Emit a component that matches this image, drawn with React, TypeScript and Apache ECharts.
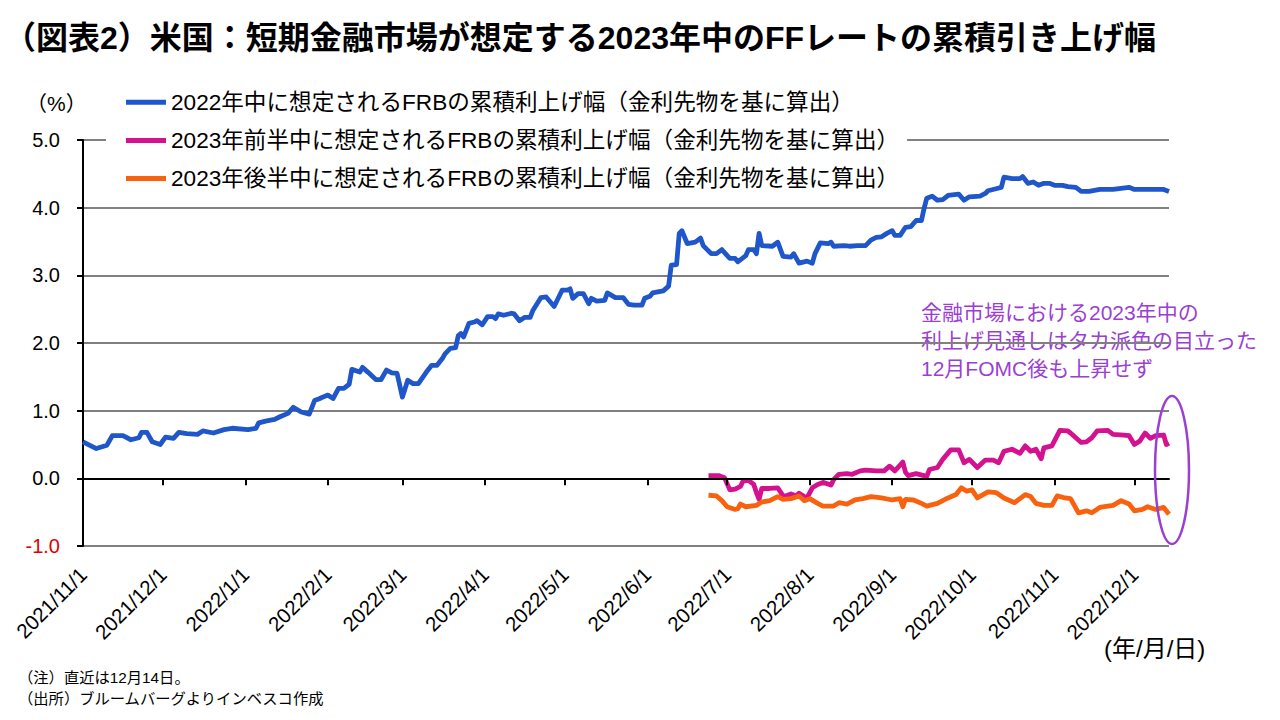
import React, { useEffect, useRef } from "react";
import * as echarts from "echarts";

const titleText = "（図表2）米国：短期金融市場が想定する2023年中のFFレートの累積引き上げ幅";
const seriesNames = [
  "2022年中に想定されるFRBの累積利上げ幅（金利先物を基に算出）",
  "2023年前半中に想定されるFRBの累積利上げ幅（金利先物を基に算出）",
  "2023年後半中に想定されるFRBの累積利上げ幅（金利先物を基に算出）",
];
const seriesColors = ["#1F56C9", "#D4118E", "#F8620F"];
const unitLabel = "（%）";
const xUnitLabel = "(年/月/日)";
const noteLines = ["（注）直近は12月14日。", "（出所）ブルームバーグよりインベスコ作成"];
const annotationLines = ["金融市場における2023年中の", "利上げ見通しはタカ派色の目立った", "12月FOMC後も上昇せず"];

const xMin = "2021-11-01";
const xMax = "2022-12-14";
const monthTicks = [
  "2021-11-01", "2021-12-01", "2022-01-01", "2022-02-01", "2022-03-01", "2022-04-01", "2022-05-01",
  "2022-06-01", "2022-07-01", "2022-08-01", "2022-09-01", "2022-10-01", "2022-11-01", "2022-12-01",
];
const yMin = -1;
const yMax = 5;
const yStep = 1;

const blue2022: [string, number][] = [
  ["2021-11-01", 0.54], ["2021-11-06", 0.44], ["2021-11-10", 0.49], ["2021-11-12", 0.63], ["2021-11-16", 0.63],
  ["2021-11-19", 0.57], ["2021-11-22", 0.6], ["2021-11-23", 0.68], ["2021-11-25", 0.68], ["2021-11-27", 0.54],
  ["2021-11-30", 0.5], ["2021-12-02", 0.61], ["2021-12-05", 0.59], ["2021-12-07", 0.68], ["2021-12-10", 0.66],
  ["2021-12-14", 0.65], ["2021-12-16", 0.7], ["2021-12-20", 0.67], ["2021-12-24", 0.72], ["2021-12-27", 0.74],
  ["2022-01-02", 0.72], ["2022-01-05", 0.74], ["2022-01-06", 0.82], ["2022-01-09", 0.85], ["2022-01-12", 0.87],
  ["2022-01-14", 0.91], ["2022-01-17", 0.96], ["2022-01-19", 1.05], ["2022-01-22", 0.98], ["2022-01-25", 0.95],
  ["2022-01-27", 1.15], ["2022-01-29", 1.18], ["2022-01-30", 1.2], ["2022-02-01", 1.23], ["2022-02-03", 1.18],
  ["2022-02-05", 1.33], ["2022-02-07", 1.33], ["2022-02-09", 1.39], ["2022-02-10", 1.61], ["2022-02-13", 1.57],
  ["2022-02-14", 1.64], ["2022-02-16", 1.57], ["2022-02-19", 1.46], ["2022-02-21", 1.46], ["2022-02-23", 1.6],
  ["2022-02-25", 1.56], ["2022-02-27", 1.55], ["2022-03-01", 1.2], ["2022-03-03", 1.45], ["2022-03-05", 1.4],
  ["2022-03-07", 1.4], ["2022-03-10", 1.57], ["2022-03-12", 1.67], ["2022-03-14", 1.67], ["2022-03-16", 1.77],
  ["2022-03-17", 1.84], ["2022-03-19", 1.92], ["2022-03-21", 1.93], ["2022-03-22", 2.11], ["2022-03-23", 2.14],
  ["2022-03-24", 2.09], ["2022-03-26", 2.29], ["2022-03-28", 2.31], ["2022-03-29", 2.33], ["2022-03-31", 2.27],
  ["2022-04-02", 2.39], ["2022-04-04", 2.39], ["2022-04-05", 2.36], ["2022-04-06", 2.43], ["2022-04-08", 2.41],
  ["2022-04-11", 2.44], ["2022-04-12", 2.43], ["2022-04-14", 2.33], ["2022-04-16", 2.38], ["2022-04-18", 2.38],
  ["2022-04-19", 2.48], ["2022-04-22", 2.67], ["2022-04-24", 2.68], ["2022-04-27", 2.54], ["2022-04-30", 2.78],
  ["2022-05-02", 2.78], ["2022-05-03", 2.8], ["2022-05-04", 2.66], ["2022-05-06", 2.73], ["2022-05-08", 2.73],
  ["2022-05-10", 2.58], ["2022-05-11", 2.66], ["2022-05-13", 2.62], ["2022-05-16", 2.63], ["2022-05-17", 2.74],
  ["2022-05-20", 2.67], ["2022-05-23", 2.67], ["2022-05-25", 2.57], ["2022-05-27", 2.56], ["2022-05-30", 2.56],
  ["2022-05-31", 2.66], ["2022-06-02", 2.69], ["2022-06-03", 2.74], ["2022-06-07", 2.77], ["2022-06-09", 2.84],
  ["2022-06-10", 3.15], ["2022-06-12", 3.16], ["2022-06-13", 3.62], ["2022-06-14", 3.66], ["2022-06-16", 3.47],
  ["2022-06-19", 3.49], ["2022-06-21", 3.55], ["2022-06-22", 3.44], ["2022-06-25", 3.32], ["2022-06-27", 3.32],
  ["2022-06-29", 3.38], ["2022-07-02", 3.25], ["2022-07-04", 3.25], ["2022-07-05", 3.2], ["2022-07-08", 3.29],
  ["2022-07-09", 3.38], ["2022-07-11", 3.38], ["2022-07-12", 3.32], ["2022-07-13", 3.62], ["2022-07-14", 3.44],
  ["2022-07-18", 3.43], ["2022-07-20", 3.49], ["2022-07-22", 3.28], ["2022-07-25", 3.27], ["2022-07-26", 3.32],
  ["2022-07-28", 3.18], ["2022-07-31", 3.21], ["2022-08-02", 3.18], ["2022-08-03", 3.32], ["2022-08-05", 3.48],
  ["2022-08-08", 3.47], ["2022-08-09", 3.49], ["2022-08-10", 3.43], ["2022-08-14", 3.44], ["2022-08-16", 3.43],
  ["2022-08-19", 3.44], ["2022-08-22", 3.44], ["2022-08-24", 3.52], ["2022-08-26", 3.56], ["2022-08-28", 3.57],
  ["2022-08-30", 3.62], ["2022-09-01", 3.66], ["2022-09-02", 3.59], ["2022-09-04", 3.59], ["2022-09-06", 3.71],
  ["2022-09-08", 3.72], ["2022-09-10", 3.81], ["2022-09-12", 3.81], ["2022-09-13", 3.99], ["2022-09-14", 4.14],
  ["2022-09-16", 4.17], ["2022-09-18", 4.11], ["2022-09-20", 4.12], ["2022-09-22", 4.18], ["2022-09-26", 4.2],
  ["2022-09-28", 4.11], ["2022-09-30", 4.16], ["2022-10-04", 4.17], ["2022-10-06", 4.21], ["2022-10-07", 4.25],
  ["2022-10-10", 4.28], ["2022-10-12", 4.3], ["2022-10-13", 4.45], ["2022-10-16", 4.43], ["2022-10-19", 4.43],
  ["2022-10-20", 4.46], ["2022-10-22", 4.36], ["2022-10-24", 4.38], ["2022-10-26", 4.33], ["2022-10-28", 4.36],
  ["2022-10-30", 4.36], ["2022-11-01", 4.33], ["2022-11-04", 4.33], ["2022-11-06", 4.31], ["2022-11-09", 4.3],
  ["2022-11-11", 4.24], ["2022-11-14", 4.24], ["2022-11-18", 4.27], ["2022-11-23", 4.27], ["2022-11-29", 4.3],
  ["2022-12-01", 4.27], ["2022-12-07", 4.27], ["2022-12-12", 4.27], ["2022-12-14", 4.24],
];

const magenta2023H1: [string, number][] = [
  ["2022-06-24", 0.04], ["2022-06-28", 0.04], ["2022-06-30", 0.01], ["2022-07-02", -0.17], ["2022-07-04", -0.16],
  ["2022-07-06", -0.12], ["2022-07-07", -0.04], ["2022-07-09", -0.03], ["2022-07-11", -0.09], ["2022-07-12", -0.21],
  ["2022-07-13", -0.31], ["2022-07-14", -0.15], ["2022-07-17", -0.15], ["2022-07-20", -0.14], ["2022-07-22", -0.26],
  ["2022-07-23", -0.26], ["2022-07-25", -0.23], ["2022-07-27", -0.26], ["2022-07-28", -0.22], ["2022-07-30", -0.27],
  ["2022-07-31", -0.29], ["2022-08-02", -0.14], ["2022-08-04", -0.09], ["2022-08-06", -0.06], ["2022-08-09", -0.1],
  ["2022-08-10", -0.02], ["2022-08-12", 0.06], ["2022-08-15", 0.07], ["2022-08-17", 0.06], ["2022-08-20", 0.11],
  ["2022-08-22", 0.12], ["2022-08-26", 0.11], ["2022-08-29", 0.11], ["2022-08-31", 0.18], ["2022-09-02", 0.11],
  ["2022-09-05", 0.24], ["2022-09-06", 0.09], ["2022-09-07", 0.04], ["2022-09-10", 0.07], ["2022-09-14", 0.03],
  ["2022-09-15", 0.13], ["2022-09-18", 0.16], ["2022-09-20", 0.28], ["2022-09-23", 0.42], ["2022-09-26", 0.42],
  ["2022-09-28", 0.23], ["2022-09-30", 0.28], ["2022-10-03", 0.16], ["2022-10-06", 0.27], ["2022-10-09", 0.27],
  ["2022-10-11", 0.23], ["2022-10-13", 0.4], ["2022-10-16", 0.43], ["2022-10-19", 0.37], ["2022-10-21", 0.48],
  ["2022-10-23", 0.4], ["2022-10-25", 0.43], ["2022-10-27", 0.29], ["2022-10-28", 0.45], ["2022-10-31", 0.48],
  ["2022-11-03", 0.71], ["2022-11-06", 0.7], ["2022-11-07", 0.67], ["2022-11-11", 0.53], ["2022-11-13", 0.54],
  ["2022-11-15", 0.6], ["2022-11-17", 0.7], ["2022-11-21", 0.71], ["2022-11-23", 0.65], ["2022-11-27", 0.64],
  ["2022-11-29", 0.63], ["2022-12-01", 0.5], ["2022-12-03", 0.55], ["2022-12-05", 0.67], ["2022-12-07", 0.59],
  ["2022-12-09", 0.63], ["2022-12-12", 0.64], ["2022-12-13", 0.5], ["2022-12-14", 0.52],
];

const orange2023H2: [string, number][] = [
  ["2022-06-24", -0.25], ["2022-06-27", -0.26], ["2022-06-29", -0.33], ["2022-07-01", -0.42], ["2022-07-04", -0.46],
  ["2022-07-05", -0.45], ["2022-07-06", -0.38], ["2022-07-08", -0.42], ["2022-07-12", -0.4], ["2022-07-14", -0.35],
  ["2022-07-17", -0.33], ["2022-07-20", -0.27], ["2022-07-22", -0.31], ["2022-07-25", -0.3], ["2022-07-28", -0.26],
  ["2022-07-30", -0.33], ["2022-08-01", -0.3], ["2022-08-04", -0.37], ["2022-08-06", -0.41], ["2022-08-10", -0.41],
  ["2022-08-12", -0.36], ["2022-08-15", -0.38], ["2022-08-18", -0.32], ["2022-08-21", -0.3], ["2022-08-24", -0.27],
  ["2022-08-28", -0.29], ["2022-09-01", -0.32], ["2022-09-04", -0.3], ["2022-09-05", -0.42], ["2022-09-06", -0.31],
  ["2022-09-09", -0.32], ["2022-09-12", -0.37], ["2022-09-14", -0.41], ["2022-09-18", -0.37], ["2022-09-20", -0.33],
  ["2022-09-22", -0.29], ["2022-09-25", -0.24], ["2022-09-27", -0.14], ["2022-09-29", -0.19], ["2022-10-01", -0.17],
  ["2022-10-03", -0.29], ["2022-10-07", -0.2], ["2022-10-10", -0.21], ["2022-10-13", -0.29], ["2022-10-17", -0.36],
  ["2022-10-19", -0.3], ["2022-10-21", -0.24], ["2022-10-23", -0.27], ["2022-10-25", -0.37], ["2022-10-28", -0.4],
  ["2022-10-31", -0.4], ["2022-11-02", -0.26], ["2022-11-05", -0.29], ["2022-11-07", -0.3], ["2022-11-10", -0.51],
  ["2022-11-13", -0.48], ["2022-11-15", -0.51], ["2022-11-18", -0.43], ["2022-11-21", -0.41], ["2022-11-23", -0.4],
  ["2022-11-26", -0.33], ["2022-11-29", -0.38], ["2022-12-01", -0.48], ["2022-12-04", -0.46], ["2022-12-06", -0.42],
  ["2022-12-09", -0.46], ["2022-12-12", -0.43], ["2022-12-14", -0.53],
];

const ts = (s: string) => {
  const [y, m, d] = s.split("-").map(Number);
  return new Date(y, m - 1, d).getTime();
};
const fmtDate = (v: number) => {
  const d = new Date(v);
  return `${d.getFullYear()}/${d.getMonth() + 1}/${d.getDate()}`;
};

const FONT = "'Liberation Sans', Arial, 'Noto Sans CJK JP', sans-serif";
const PURPLE = "#9B3FD3";

export default function App() {
  const ref = useRef<HTMLDivElement>(null);
  useEffect(() => {
    if (!ref.current) return;
    const chart = echarts.init(ref.current, undefined, { renderer: "svg" });
    const tickTs = monthTicks.map(ts);
    const allData = [blue2022, magenta2023H1, orange2023H2];
    chart.setOption({
      animation: false,
      backgroundColor: "#fff",
      textStyle: { fontFamily: FONT },
      grid: { left: 83, right: 111, top: 140, bottom: 174, containLabel: false },
      legend: {
        orient: "vertical",
        left: 106,
        top: 85,
        padding: [6, 8, 6, 20],
        backgroundColor: "#fff",
        itemWidth: 40,
        itemHeight: 5,
        itemGap: 15.5,
        icon: "rect",
        textStyle: { fontSize: 22.6, color: "#000", fontFamily: FONT },
        data: seriesNames,
      },
      xAxis: [
        {
          type: "value",
          min: ts(xMin),
          max: ts(xMax),
          position: "bottom",
          axisLine: { onZero: true, lineStyle: { color: "#000", width: 2 } },
          axisTick: { show: true, length: 7, customValues: tickTs, lineStyle: { color: "#000", width: 2 } },
          axisLabel: { show: false },
          splitLine: { show: false },
          z: 3,
        },
        {
          type: "value",
          min: ts(xMin),
          max: ts(xMax),
          position: "bottom",
          axisLine: { show: false, onZero: false },
          axisTick: { show: false },
          splitLine: { show: false },
          axisLabel: {
            show: true,
            customValues: tickTs,
            rotate: 45,
            margin: 25,
            fontSize: 20.5,
            color: "#000",
            fontFamily: FONT,
            showMinLabel: true,
            showMaxLabel: true,
            formatter: (v: number) => fmtDate(v),
          },
        },
      ],
      yAxis: {
        type: "value",
        min: yMin,
        max: yMax,
        interval: yStep,
        axisLine: { show: true, onZero: false, lineStyle: { color: "#000", width: 2 } },
        axisTick: { show: true, length: 6, lineStyle: { color: "#000", width: 2 } },
        splitLine: { show: true, lineStyle: { color: "#808080", width: 2 } },
        axisLabel: {
          margin: 23,
          fontSize: 20,
          color: "#000",
          fontFamily: FONT,
          formatter: (v: number) => (v < 0 ? `{neg|${v.toFixed(1)}}` : v.toFixed(1)),
          rich: { neg: { color: "#E00000", fontSize: 20, fontFamily: FONT } },
        },
      },
      series: allData.map((d, i) => ({
        name: seriesNames[i],
        type: "line",
        xAxisIndex: 0,
        showSymbol: false,
        symbol: "none",
        color: seriesColors[i],
        lineStyle: { width: 4.8, color: seriesColors[i], join: "round" },
        data: d.map(([t, v]) => [ts(t), v]),
        z: 2,
      })),
      graphic: [
        {
          type: "text",
          x: 4,
          y: 38,
          style: {
            text: titleText,
            font: `bold 32px ${FONT}`,
            fill: "#000",
            textVerticalAlign: "middle",
            verticalAlign: "middle",
          },
        },
        {
          type: "text",
          x: 26,
          y: 103,
          style: { text: unitLabel, font: `21px ${FONT}`, fill: "#000", textVerticalAlign: "middle", verticalAlign: "middle" },
        },
        {
          type: "text",
          x: 1104,
          y: 648,
          style: { text: xUnitLabel, font: `24px ${FONT}`, fill: "#000", textVerticalAlign: "middle", verticalAlign: "middle" },
        },
        ...noteLines.map((t, i) => ({
          type: "text",
          x: 18,
          y: 677 + i * 21,
          style: { text: t, font: `15.3px ${FONT}`, fill: "#000", textVerticalAlign: "middle", verticalAlign: "middle" },
        })),
        ...annotationLines.map((t, i) => ({
          type: "text",
          x: 921,
          y: 312 + i * 28,
          style: { text: t, font: `21px ${FONT}`, fill: PURPLE, textVerticalAlign: "middle", verticalAlign: "middle" },
        })),
        {
          type: "ellipse",
          shape: { cx: 1172, cy: 470, rx: 17, ry: 74 },
          style: { fill: "none", stroke: PURPLE, lineWidth: 2.5 },
          z: 10,
        },
      ],
    });
    return () => chart.dispose();
  }, []);
  return <div ref={ref} style={{ position: "fixed", left: 0, top: 0, width: 1280, height: 720 }} />;
}
